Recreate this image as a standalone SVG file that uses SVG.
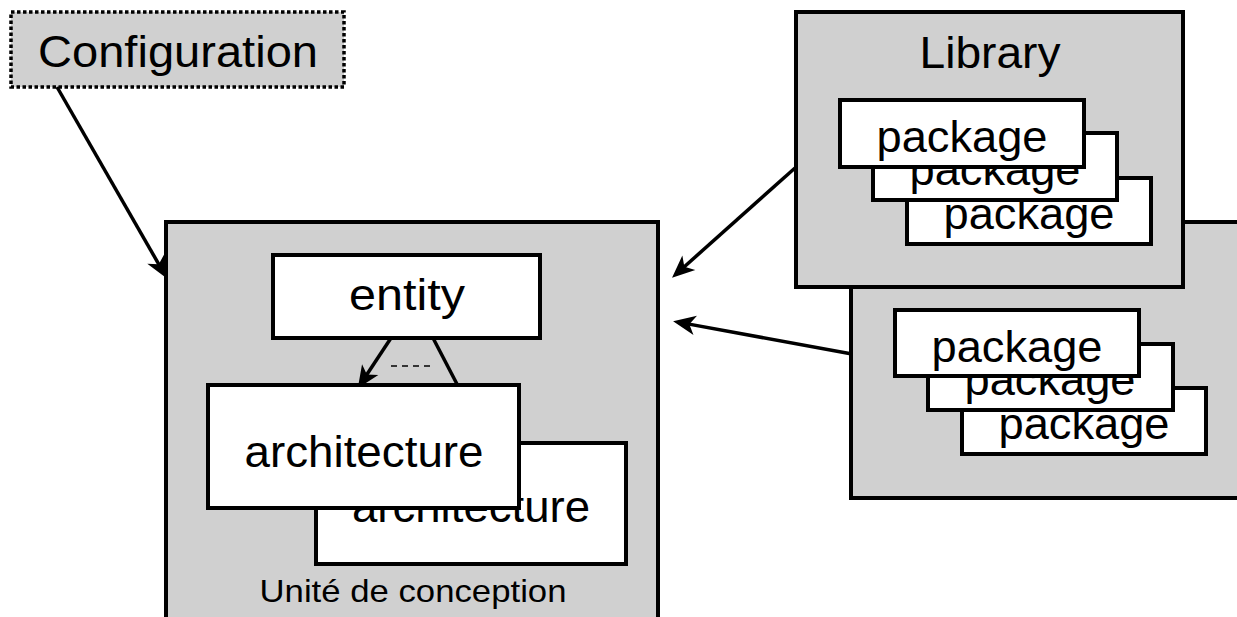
<svg xmlns="http://www.w3.org/2000/svg" width="1237" height="617" viewBox="0 0 1237 617">
<style>
.box{fill:#d0d0d0;stroke:#000;stroke-width:4}
.wb{fill:#fff;stroke:#000;stroke-width:4}
.t{font-family:"Liberation Sans",Arial,sans-serif;font-size:45px;fill:#000;text-anchor:middle}
.s{font-family:"Liberation Sans",Arial,sans-serif;font-size:32px;fill:#000;text-anchor:middle}
.ln{stroke:#000;stroke-width:3.5;fill:none}
</style>
<defs>
<marker id="ah" markerUnits="userSpaceOnUse" markerWidth="30" markerHeight="30" viewBox="-10 -10 20 20" refX="0" refY="0" orient="auto">
<path d="M8,0 L-7,-6.5 L-3,0 L-7,6.5 Z" fill="#000"/>
</marker>
</defs>
<rect width="1237" height="617" fill="#fff"/>

<g id="configuration">
<rect x="11" y="12" width="333" height="75" fill="#d0d0d0" stroke="#000" stroke-width="3.5" stroke-dasharray="3.5 2.5"/>
<text class="t" x="178" y="67" textLength="280" lengthAdjust="spacingAndGlyphs">Configuration</text>
</g>

<g id="library2">
<rect class="box" x="851" y="222" width="390" height="276"/>
<rect class="wb" x="962" y="388" width="244" height="66"/>
<text class="t" x="1084" y="439" textLength="171" lengthAdjust="spacingAndGlyphs">package</text>
<rect class="wb" x="928" y="344" width="245" height="66"/>
<text class="t" x="1050" y="395" textLength="171" lengthAdjust="spacingAndGlyphs">package</text>
<rect class="wb" x="895" y="310" width="244" height="66"/>
<text class="t" x="1017" y="362" textLength="171" lengthAdjust="spacingAndGlyphs">package</text>
</g>

<g id="library">
<rect class="box" x="796" y="12" width="387" height="275"/>
<text class="t" x="990" y="68" textLength="141" lengthAdjust="spacingAndGlyphs">Library</text>
<rect class="wb" x="907" y="178" width="244" height="66"/>
<text class="t" x="1029" y="229" textLength="171" lengthAdjust="spacingAndGlyphs">package</text>
<rect class="wb" x="873" y="133" width="244" height="67"/>
<text class="t" x="995" y="185" textLength="171" lengthAdjust="spacingAndGlyphs">package</text>
<rect class="wb" x="840" y="100" width="244" height="67"/>
<text class="t" x="962" y="152" textLength="171" lengthAdjust="spacingAndGlyphs">package</text>
</g>

<g id="unite">
<rect class="box" x="166" y="222" width="492" height="420"/>
<text class="s" x="413" y="602" textLength="307" lengthAdjust="spacingAndGlyphs">Unité de conception</text>
</g>

<g id="entity">
<rect class="wb" x="273" y="255" width="267" height="83"/>
<text class="t" x="407" y="310" textLength="116" lengthAdjust="spacingAndGlyphs">entity</text>
</g>

<g id="architecture2">
<rect class="wb" x="316" y="443" width="310" height="121"/>
<text class="t" x="471" y="522" textLength="238" lengthAdjust="spacingAndGlyphs">architecture</text>
</g>

<g id="connectors">
<line class="ln" x1="57" y1="87" x2="161" y2="268.1" marker-end="url(#ah)"/>
<line class="ln" x1="795" y1="168" x2="681" y2="269.7" marker-end="url(#ah)"/>
<line class="ln" x1="852" y1="354" x2="684.9" y2="323.4" marker-end="url(#ah)"/>
<line class="ln" x1="391" y1="338" x2="364.4" y2="378.3" marker-end="url(#ah)"/>
<line class="ln" x1="433" y1="338" x2="458" y2="386"/>
<line x1="391" y1="366" x2="433" y2="366" stroke="#000" stroke-width="1.5" stroke-dasharray="6 5"/>
</g>

<g id="architecture">
<rect class="wb" x="208" y="385" width="311" height="123"/>
<text class="t" x="364" y="467" textLength="239" lengthAdjust="spacingAndGlyphs">architecture</text>
</g>
</svg>
